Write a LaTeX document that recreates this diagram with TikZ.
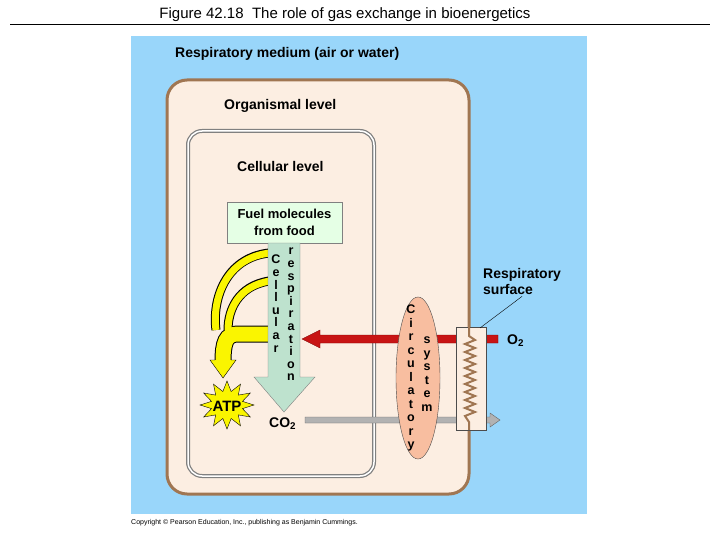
\documentclass[tikz,border=0pt]{standalone}
\usepackage{fontspec}
\setmainfont{Liberation Sans}
\usetikzlibrary{positioning,shapes.geometric}
\definecolor{medium}{RGB}{153,214,250}
\definecolor{body}{RGB}{252,238,226}
\definecolor{brownline}{RGB}{160,118,82}
\definecolor{greenarr}{RGB}{190,226,206}
\definecolor{bloodred}{RGB}{200,20,20}
\definecolor{salmon}{RGB}{248,190,160}
\definecolor{yel}{RGB}{250,245,0}
\tikzset{
  lbl/.style={font=\bfseries\fontsize{14}{16}\selectfont, inner sep=0pt},
  vert/.style={font=\bfseries\fontsize{12.5}{12.6}\selectfont, align=center, inner sep=0pt},
  yband/.style={line width=#1, yel},
  yedge/.style={line width=#1, black},
}
\begin{document}
\begin{tikzpicture}[x=1pt,y=-1pt]
    \useasboundingbox (0,0) rectangle (720,540);
    % Title
    \node[font=\fontsize{15}{16}\selectfont, inner sep=0pt] (title) at (345,15) {Figure 42.18\ \ The role of gas exchange in bioenergetics};
    \draw[thick] (10,24) -- (710,24);

    % Respiratory medium
    \fill[medium] (131,36) rectangle (587,514);
    \node[lbl, anchor=west] (medium) at (175,54) {Respiratory medium (air or water)};

    % Organismal level
    \draw[brownline, line width=3pt, fill=body, rounded corners=20pt] (167,80) rectangle (469,494);
    \node[lbl, anchor=west] (organism) at (224,106) {Organismal level};

    % Cellular level
    \draw[gray, line width=4pt, rounded corners=14pt] (188,131) rectangle (374,476);
    \draw[white, line width=1.5pt, rounded corners=14pt] (188,131) rectangle (374,476);
    \node[lbl, anchor=west] (cell) at (237,166) {Cellular level};

    % Fuel molecules
    \node[draw=gray, fill=white!90!green, minimum width=115pt, minimum height=41pt, align=center,
          font=\bfseries\fontsize{13}{17}\selectfont] (fuel) at (284.5,222.5) {Fuel molecules\\from food};

    % Yellow ATP branches
    \draw[yedge=17pt] (269,334) -- (238,334) .. controls (226,334) and (223,342) .. (223,362);
    \draw[yedge=9pt] (269,253) .. controls (225,258) and (212,300) .. (216,330);
    \draw[yedge=9pt] (269,281) .. controls (238,286) and (228,310) .. (228,330);
    \draw[yband=7pt] (270,253) .. controls (225,258) and (212,300) .. (216,330);
    \draw[yband=7pt] (270,281) .. controls (238,286) and (228,310) .. (228,330);
    \draw[yband=15pt] (270,334) -- (238,334) .. controls (226,334) and (223,342) .. (223,362);
    \draw[fill=yel] (231,360) -- (236,360) -- (223,378) -- (210,360) -- (215,360);
    \fill[yel] (216,355) rectangle (230,362);

    % Green respiration arrow
    \draw[gray, fill=greenarr] (268,243) -- (300,243) -- (300,377) -- (315,377) -- (284,412)
        -- (254,377) -- (268,377) -- cycle;
    \node[vert, anchor=north] (cellular) at (276,255) {C\\e\\l\\l\\u\\l\\a\\r};
    \node[vert, anchor=north] (respiration) at (291,248) {r\\e\\s\\p\\i\\r\\a\\t\\i\\o\\n};

    % ATP
    \draw[fill=yel] (254,405)
      \foreach \a [count=\i] in {15,30,...,345} {
        -- ({227+(mod(\i,2)==1 ? 16 : 27)*cos(\a)}, {405-(mod(\i,2)==1 ? 14 : 24)*sin(\a)})
      } -- cycle;
    \node[lbl, font=\bfseries\fontsize{15}{16}\selectfont] (atp) at (227,406) {ATP};

    % CO2 and O2 labels
    \node[lbl, anchor=west] (co2) at (269,424) {CO\textsubscript{2}};
    \node[lbl, anchor=west] (o2) at (507,341) {O\textsubscript{2}};

    % Gray CO2 arrow
    \draw[black!60, fill=black!30] (305,417) -- (490,417) -- (490,413) -- (500,420) -- (490,427)
        -- (490,423) -- (305,423) -- cycle;

    % Red O2 arrow
    \draw[black!50!red, fill=bloodred] (498,335) -- (320,335) -- (320,330) -- (302,339)
        -- (320,348) -- (320,343) -- (498,343) -- cycle;

    % Circulatory system
    \node[draw=black!70, fill=salmon, ellipse, minimum width=44pt, minimum height=162pt] (circ) at (418,378) {};
    \node[vert, anchor=north, font=\bfseries\fontsize{12.5}{13.5}\selectfont] (circulatory) at (411,305) {C\\i\\r\\c\\u\\l\\a\\t\\o\\r\\y};
    \node[vert, anchor=north, font=\bfseries\fontsize{12.5}{13.5}\selectfont] (system) at (427,337) {s\\y\\s\\t\\e\\m};

    % Respiratory surface
    \draw[black!70, fill=body] (456,327) rectangle (486,430);
    \draw[brownline, line width=2pt] (469,327) -- (469,336)
      \foreach \k in {0,...,9} { -- (475,{340+\k*8}) -- (465,{344+\k*8}) } -- (469,422) -- (469,430);
    \node[lbl, anchor=west, align=left] (surface) at (483,281) {Respiratory\\surface};
    \draw (surface.south) ++(0,2) -- (480,328);

    % Copyright
    \node[font=\fontsize{7}{8}\selectfont, anchor=west, inner sep=0pt] (copy) at (131,523)
      {Copyright © Pearson Education, Inc., publishing as Benjamin Cummings.};
\end{tikzpicture}
\end{document}
